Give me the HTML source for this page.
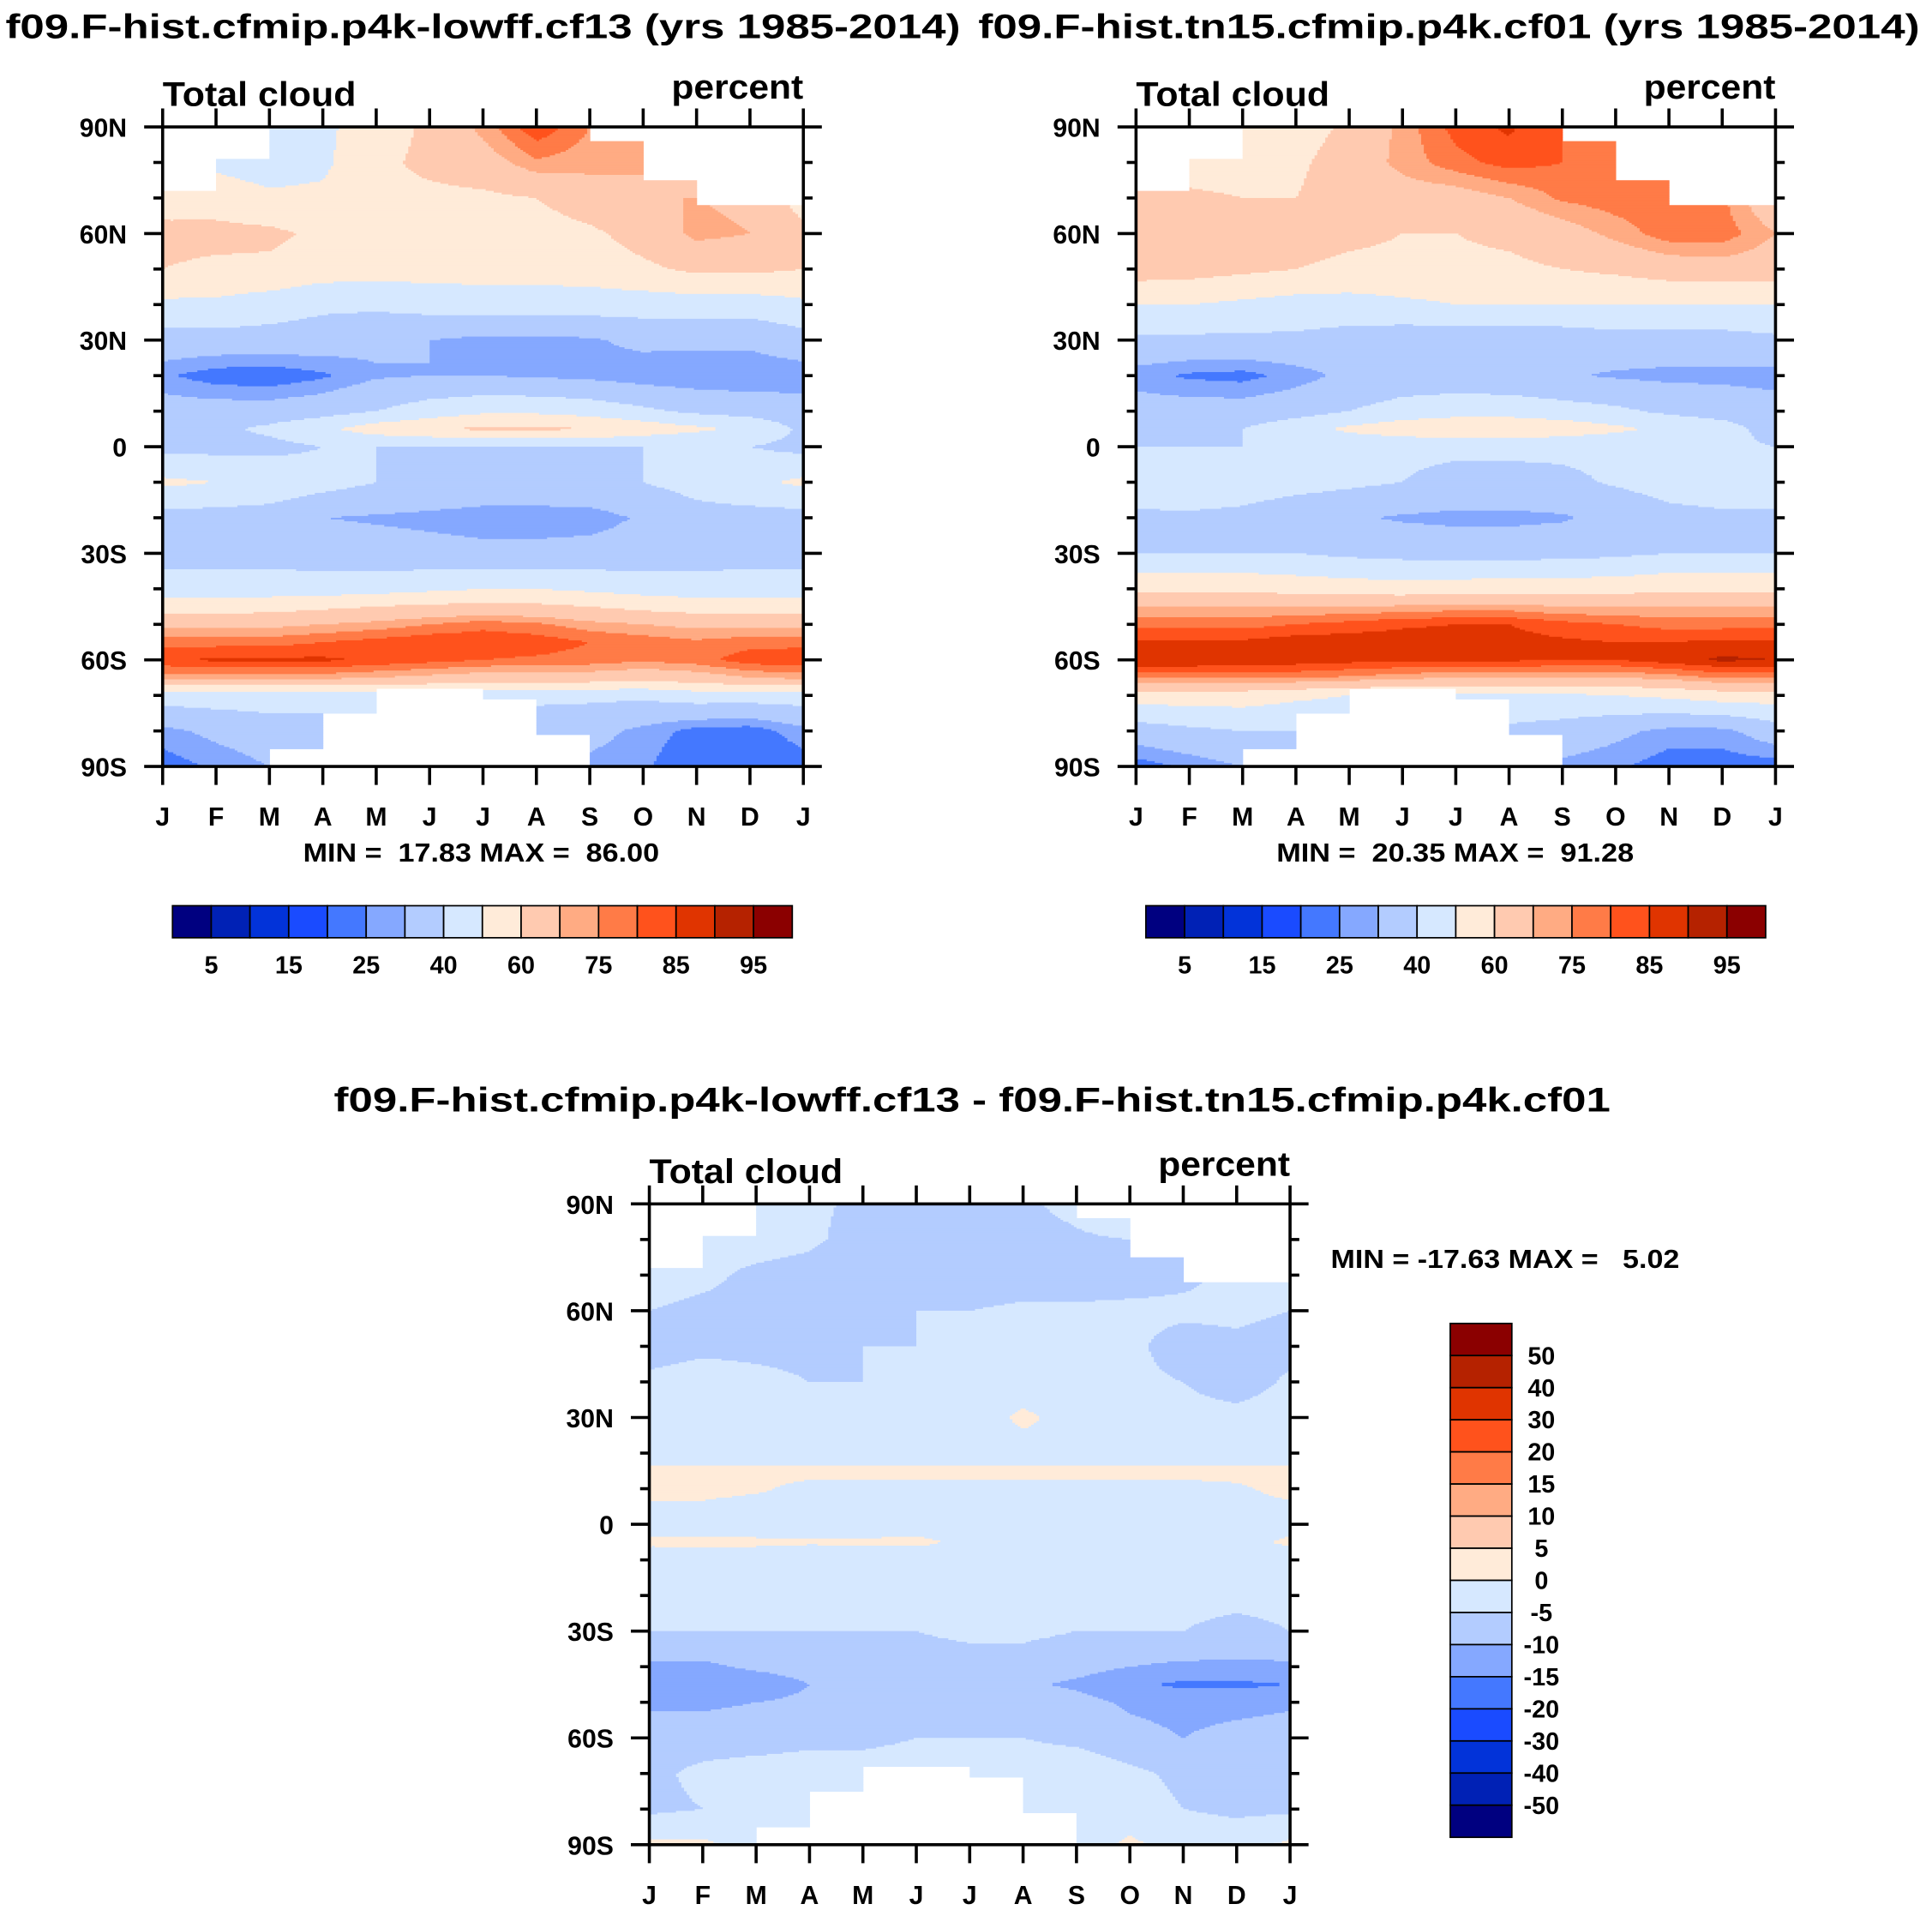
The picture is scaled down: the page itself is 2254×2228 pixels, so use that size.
<!DOCTYPE html>
<html><head><meta charset="utf-8"><style>
html,body{margin:0;padding:0;background:#fff}
svg{display:block}
text{font-family:"Liberation Sans",sans-serif;font-weight:bold;fill:#000;white-space:pre}
</style></head><body>
<svg id="fig" width="2254" height="2228" viewBox="0 0 1568 1550" preserveAspectRatio="none" xmlns="http://www.w3.org/2000/svg">
<text x="392" y="31" font-size="28" text-anchor="middle" textLength="775" lengthAdjust="spacingAndGlyphs">f09.F-hist.cfmip.p4k-lowff.cf13 (yrs 1985-2014)</text>
<text x="1176" y="31" font-size="28" text-anchor="middle" textLength="764" lengthAdjust="spacingAndGlyphs">f09.F-hist.tn15.cfmip.p4k.cf01 (yrs 1985-2014)</text>
<text x="789" y="902" font-size="28" text-anchor="middle" textLength="1036" lengthAdjust="spacingAndGlyphs">f09.F-hist.cfmip.p4k-lowff.cf13 - f09.F-hist.tn15.cfmip.p4k.cf01</text>
<g id="p1"></g>
<g id="p2"></g>
<g id="p3"></g>
</svg>
<script>
const months=["J","F","M","A","M","J","J","A","S","O","N","D","J"];
const latTickLabels=["90N","60N","30N","0","30S","60S","90S"];
const absLevels=[5,10,15,20,25,30,40,50,60,70,75,80,85,90,95];
const absLabels=["5","15","25","40","60","75","85","95"];
const diffLevels=[-50,-40,-30,-20,-15,-10,-5,0,5,10,15,20,30,40,50];
const diffLabels=["-50","-40","-30","-20","-15","-10","-5","0","5","10","15","20","30","40","50"];
const colors=["#000080","#0021B5","#0233D9","#1A4BFF","#4478FF","#85A8FF","#B3CCFF","#D6E8FF","#FFEBD9","#FFCAB0","#FFAB83","#FF7B47","#FF521C","#E03400","#B52200","#8B0000"];
const absLats=[90,80,70,60,50,40,30,20,10,5,0,-10,-20,-30,-40,-45,-50,-55,-60,-65,-70,-80,-90];
const cloudA=[
[45,45,45,48,55,62,72,84,75,70,70,68,45],
[48,48,45,48,58,62,66,74,72,70,68,66,48],
[55,55,52,52,58,58,58,60,66,70,70,68,55],
[63,63,62,58,56,55,55,55,58,64,72,70,63],
[60,58,58,55,54,54,54,54,55,58,62,62,60],
[48,48,45,42,42,44,45,45,45,45,45,45,48],
[36,36,36,35,32,30,28,28,29,32,32,32,36],
[26,22,21,24,29,30,30,29,28,26,25,25,26],
[34,34,34,36,40,45,48,48,46,42,38,36,34],
[38,38,42,48,55,58,62,62,60,56,52,48,38],
[37,37,37,40,40,40,40,40,40,40,40,40,37],
[52,50,48,44,40,38,36,36,37,40,44,48,52],
[36,36,35,30,29,28,27,27,27,31,36,36,36],
[36,36,36,35,34,33,32,32,33,34,35,36,36],
[45,45,45,45,46,48,50,50,48,46,45,45,45],
[55,55,56,58,60,62,62,62,60,57,55,55,55],
[68,68,68,70,72,75,78,76,72,70,68,68,68],
[78,78,78,80,82,84,84,83,80,78,76,78,78],
[84,86,86,86,84,82,80,79,78,76,78,83,84],
[72,72,72,72,70,68,66,66,66,64,66,70,72],
[45,45,45,45,45,45,42,42,42,42,45,45,45],
[28,32,35,35,36,36,35,35,33,28,23,22,28],
[22,26,30,30,30,30,30,30,28,26,20,20,22]];
const cloudB=[
[50,50,52,55,62,72,82,86,80,74,72,70,50],
[55,55,55,58,65,72,78,82,80,78,74,72,55],
[62,62,60,60,65,66,66,70,76,78,78,76,62],
[70,70,68,64,62,60,60,62,66,72,78,78,70],
[65,64,62,60,58,58,58,58,60,62,65,66,65],
[50,50,48,46,46,48,50,50,50,50,50,50,50],
[38,38,38,38,36,34,33,33,34,36,36,36,38],
[27,24,23,27,32,34,34,33,31,29,28,28,27],
[34,34,34,36,40,44,46,46,44,42,38,36,34],
[36,36,40,46,52,56,58,58,56,52,48,44,36],
[40,40,40,42,42,42,42,42,42,42,42,42,40],
[46,48,46,44,42,40,37,37,38,41,44,46,46],
[38,38,37,33,31,29,28,28,29,33,37,38,38],
[40,40,40,40,38,37,36,36,37,38,40,40,40],
[58,58,58,56,55,54,55,56,56,56,58,58,58],
[70,70,70,70,70,71,72,72,70,70,70,70,70],
[78,78,78,80,82,84,85,85,82,80,78,78,78],
[86,86,86,88,88,88,88,87,86,85,85,86,86],
[90,90,89,88,87,86,86,86,85,85,88,91,90],
[76,76,76,76,74,72,70,70,70,70,72,76,76],
[55,55,55,52,50,48,48,48,48,50,52,55,55],
[35,38,40,40,40,40,40,38,36,32,28,28,35],
[22,26,30,30,30,30,30,30,28,26,22,22,22]];
const diffLats=[90,80,70,60,50,40,30,20,15,10,0,-5,-10,-20,-30,-40,-45,-50,-60,-70,-80,-90];
const cloudDiff=[
[-3,-3,-3,-4,-6,-8,-10,-6,-3,2,-2,-2,-3],
[-3,-3,-3,-4,-7,-8,-10,-8,-6,-5,-4,-4,-3],
[-3,-4,-6,-7,-9,-9,-8,-8,-8,-7,-6,-4,-3],
[-5,-6,-6,-6,-6,-5,-5,-4,-4,-4,-4,-4,-5],
[-7,-6,-6,-6,-5,-5,-4,-4,-4,-4,-7,-6,-7],
[-4,-3,-4,-5,-5,-4,-4,-3,-3,-4,-5,-8,-4],
[-2,-2,-2,-3,-3,-3,-3,1,-2,-3,-3,-3,-2],
[-2,-2,-2,-2,-2,-2,-2,-2,-2,-2,-2,-2,-2],
[1,1,1,1,1,1,1,1,1,1,1,1,1],
[1,1,0.5,-1,-1,-1,-1,-1,-1,-1,-1,-0.5,1],
[-2,-2,-3,-2,-2,-2,-2,-2,-3,-2,-2,-2,-2],
[1,1,1,0.5,0.5,1,-1,-1,-2,-2,-2,-2,1],
[-3,-3,-3,-3,-2,-3,-3,-3,-3,-3,-3,-3,-3],
[-4,-4,-4,-4,-4,-4,-4,-4,-4,-4,-4,-4,-4],
[-5,-5,-5,-5,-5,-5,-4,-4,-5,-5,-5,-6,-5],
[-11,-11,-9,-8,-8,-7,-7,-7,-8,-10,-11,-11,-11],
[-15,-15,-13,-10,-9,-8,-8,-9,-11,-14,-16,-16,-15],
[-11,-11,-10,-9,-8,-7,-7,-7,-8,-11,-12,-12,-11],
[-7,-7,-7,-6,-6,-5,-5,-5,-6,-8,-10,-8,-7],
[-6,-4,-3,-3,-3,-3,-3,-3,-2,-4,-6,-6,-6],
[-6,-5,-4,-3,-3,-3,-3,-3,-3,-3,-5,-6,-6],
[1,1,-2,-3,-3,-3,-3,-3,-3,1,-2,-2,1]];
// missing-data regions: [monthStart, monthEnd, latEdge]
const maskTop=[[0,1,72],[1,2,81],[8,9,86],[9,10,75],[10,12,68]];
const maskBottom=[[2,3,-85],[3,4,-75],[4,6,-68],[6,7,-71],[7,8,-81]];

const NS="http://www.w3.org/2000/svg";
function mk(tag,attrs,parent){const e=document.createElementNS(NS,tag);for(const k in attrs)e.setAttribute(k,attrs[k]);parent.appendChild(e);return e;}
function interp(lats,grid,m,lat){
  let i=0;while(i<lats.length-2&&lat<lats[i+1])i++;
  const t=(lats[i]-lat)/(lats[i]-lats[i+1]);
  const j=Math.min(11,Math.floor(m));const u=m-j;
  const a=grid[i][j]*(1-u)+grid[i][j+1]*u;
  const b=grid[i+1][j]*(1-u)+grid[i+1][j+1]*u;
  return a*(1-t)+b*t;
}
function colorIdx(levels,v){let k=0;while(k<levels.length&&v>=levels[k])k++;return k;}
function masked(m,lat){
  for(const r of maskTop) if(m>=r[0]&&m<r[1]&&lat>r[2]) return true;
  for(const r of maskBottom) if(m>=r[0]&&m<r[1]&&lat<r[2]) return true;
  return false;
}
function txt(g,attrs,s,name){const t=mk('text',attrs,g);t.textContent=s;
  
  
  return t;}
function drawPanel(g,x0,y0,w,h,lats,grid,levels,name){
  const xs=m=>x0+m/12*w, ys=l=>y0+(90-l)/180*h;
  const fg=mk('g',{},g);
  
  
  const dl=0.5, dm=0.05;
  for(let l=90;l>-90;l-=dl){
    const lc=l-dl/2;let start=0,cur=null;
    for(let s=0;s<=240;s++){
      const m=s*dm;let c;
      if(s==240)c='end';else{const mc=m+dm/2;c=masked(mc,lc)?'none':colors[colorIdx(levels,interp(lats,grid,mc,lc))];}
      if(c!==cur){
        if(cur!==null&&cur!=='none'){
          const r=mk('rect',{x:xs(start).toFixed(2),y:ys(l).toFixed(2),width:(xs(m)-xs(start)+0.4).toFixed(2),height:(h*dl/180+0.4).toFixed(2),fill:cur},fg);
          
          
        }
        cur=c;start=m;
      }
    }
  }
  const ax=mk('g',{stroke:'#000','stroke-width':2.5,fill:'none'},g);
  
  
  mk('rect',{x:x0,y:y0,width:w,height:h},ax);
  for(let i=0;i<=12;i++){const x=xs(i);
    mk('line',{x1:x,y1:y0,x2:x,y2:y0-15},ax);mk('line',{x1:x,y1:y0+h,x2:x,y2:y0+h+15},ax);
    txt(g,{x:x,y:y0+h+48,'font-size':21,'text-anchor':'middle'},months[i],'month-label');
  }
  for(let l=90;l>=-90;l-=10){const y=ys(l);const major=(l%30===0);const len=major?15:7.5;
    mk('line',{x1:x0,y1:y,x2:x0-len,y2:y},ax);mk('line',{x1:x0+w,y1:y,x2:x0+w+len,y2:y},ax);
    if(major) txt(g,{x:x0-29,y:y+8,'font-size':21,'text-anchor':'end'},latTickLabels[(90-l)/30],'lat-label');
  }
  txt(g,{x:x0,y:y0-17,'font-size':28,textLength:157,lengthAdjust:'spacingAndGlyphs'},'Total cloud','variable-label');
  txt(g,{x:x0+w-107,y:y0-23,'font-size':28,textLength:107,lengthAdjust:'spacingAndGlyphs'},'percent','units-label');
}
function hbar(g,x0,y0,w,h,labels){
  const bw=w/16;
  for(let i=0;i<16;i++){const r=mk('rect',{x:x0+i*bw,y:y0,width:bw,height:h,fill:colors[i],stroke:'#000','stroke-width':1.2},g);
    
    }
  labels.forEach((s,k)=>txt(g,{x:x0+(2*k+1)*bw,y:y0+h+29,'font-size':20,'text-anchor':'middle'},s,'colorbar-label'));
}
function vbar(g,x0,y0,w,h,labels){
  const bh=h/16;
  for(let i=0;i<16;i++){const r=mk('rect',{x:x0,y:y0+i*bh,width:w,height:bh,fill:colors[15-i],stroke:'#000','stroke-width':1.2},g);
    
    }
  labels.slice().reverse().forEach((s,k)=>txt(g,{x:x0+w+24,y:y0+(k+1)*bh+7,'font-size':20,'text-anchor':'middle'},s,'colorbar-label'));
}
const p1=document.getElementById('p1'),p2=document.getElementById('p2'),p3=document.getElementById('p3');
drawPanel(p1,132,103,520,519,absLats,cloudA,absLevels,'left-plot');
drawPanel(p2,922,103,519,519,absLats,cloudB,absLevels,'right-plot');
drawPanel(p3,527,977,520,520,diffLats,cloudDiff,diffLevels,'diff-plot');
txt(p1,{x:246,y:699,'font-size':21,textLength:289,lengthAdjust:'spacingAndGlyphs'},'MIN =  17.83 MAX =  86.00','min-max-label');
txt(p2,{x:1036,y:699,'font-size':21,textLength:290,lengthAdjust:'spacingAndGlyphs'},'MIN =  20.35 MAX =  91.28','min-max-label');
txt(p3,{x:1080,y:1029,'font-size':21,textLength:283,lengthAdjust:'spacingAndGlyphs'},'MIN = -17.63 MAX =   5.02','min-max-label');
hbar(p1,140,735,503,26,absLabels);
hbar(p2,930,735,503,26,absLabels);
vbar(p3,1177,1074,50,417,diffLabels);
</script>
</body></html>
